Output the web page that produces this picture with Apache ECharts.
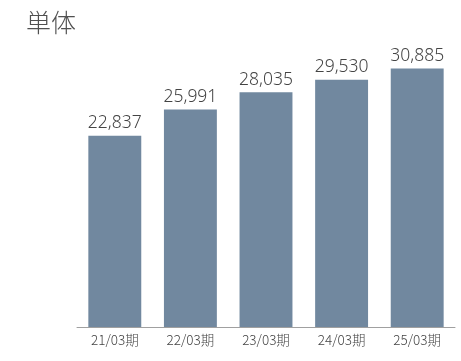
<!DOCTYPE html>
<html>
<head>
<meta charset="utf-8">
<script src="https://cdn.jsdelivr.net/npm/echarts@6/dist/echarts.min.js"></script>
<style>
  html, body { margin: 0; padding: 0; background: #fff; }
  #chart { width: 461px; height: 361px; }
</style>
</head>
<body>
<div id="chart"></div>
<script>
// 単体 results by fiscal period
const categories = ['21/03期', '22/03期', '23/03期', '24/03期', '25/03期'];
const values = [22837, 25991, 28035, 29530, 30885];

const cjkFont = '"Noto Sans CJK JP", "Noto Sans", sans-serif';
const numFont = '"Noto Sans", "Noto Sans CJK JP", sans-serif';
const chart = echarts.init(document.getElementById('chart'));
chart.setOption({
  animation: false,
  title: {
    text: '単体',
    left: 21,
    top: 5,
    textStyle: { fontFamily: cjkFont, fontSize: 25, fontWeight: 300, color: '#505050' }
  },
  grid: { left: 77, right: 6, top: 34, bottom: 34 },
  xAxis: {
    type: 'category',
    data: categories,
    axisLine: { lineStyle: { color: '#a0a0a0', width: 1 } },
    axisTick: { show: false },
    axisLabel: { fontFamily: cjkFont, fontSize: 13.5, fontWeight: 300, color: '#444', margin: 6 }
  },
  yAxis: {
    type: 'value',
    min: 0,
    max: 35000,
    show: false,
    splitLine: { show: false }
  },
  series: [{
    type: 'bar',
    data: values,
    barWidth: '70%',
    itemStyle: { color: '#71889f' },
    label: {
      show: true,
      position: 'top',
      distance: 4,
      fontFamily: numFont,
      fontSize: 17.5,
      fontWeight: 300,
      color: '#444',
      formatter: p => p.value.toLocaleString('en-US')
    }
  }]
});
</script>
</body>
</html>
